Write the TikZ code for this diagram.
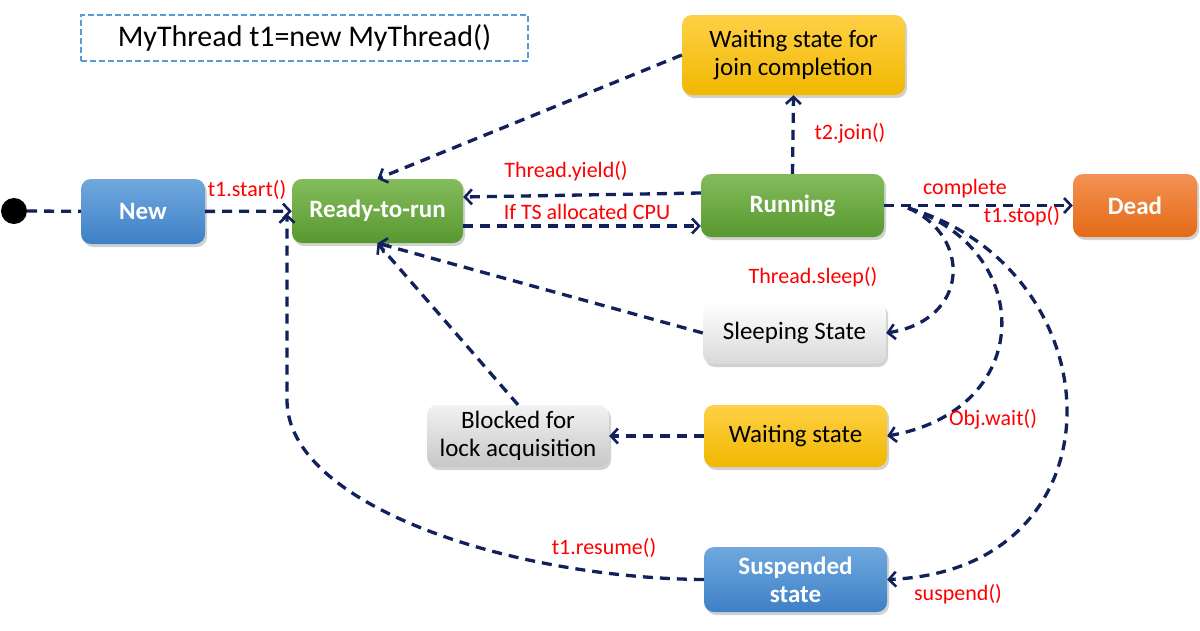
\documentclass[tikz,border=0pt]{standalone}
\usepackage{fontspec}
\setmainfont{Carlito}
\usetikzlibrary{arrows.meta,shadows,calc}
\definecolor{arrowc}{RGB}{18,32,92}
\definecolor{bluetop}{RGB}{112,168,222}
\definecolor{bluebot}{RGB}{62,128,198}
\definecolor{greentop}{RGB}{132,188,92}
\definecolor{greenbot}{RGB}{88,152,48}
\definecolor{orangetop}{RGB}{243,146,84}
\definecolor{orangebot}{RGB}{228,106,22}
\definecolor{yellowtop}{RGB}{255,208,70}
\definecolor{yellowbot}{RGB}{240,184,0}
\definecolor{titleblue}{RGB}{91,155,213}
\begin{document}
\begin{tikzpicture}[x=1pt,y=-1pt,
  st/.style={rounded corners=10pt, inner sep=0pt, align=center,
    drop shadow={opacity=0.35, shadow xshift=2pt, shadow yshift=-3pt},
    font=\fontsize{25}{28}\selectfont},
  stbold/.style={st, text=white, font=\fontsize{25}{28}\selectfont\bfseries},
  stblue/.style={stbold, top color=bluetop, bottom color=bluebot},
  stgreen/.style={stbold, top color=greentop, bottom color=greenbot},
  storange/.style={stbold, top color=orangetop, bottom color=orangebot},
  styellow/.style={st, top color=yellowtop, bottom color=yellowbot},
  stwhite/.style={st, top color=white, bottom color=black!15},
  stgray/.style={st, top color=black!5, bottom color=black!22},
  lbl/.style={text=red, inner sep=0pt, font=\fontsize{22}{24}\selectfont},
  dashline/.style={draw=arrowc, line width=3.3pt, dash pattern=on 10pt off 7pt},
  conn/.style={dashline, -{Straight Barb[length=7pt,width=15pt,line width=2.6pt]}}
]
\useasboundingbox (0,0) rectangle (1200,630);
\fill[white] (0,0) rectangle (1200,630);

% title box
\node[draw=titleblue, line width=2pt, dash pattern=on 6pt off 3pt,
  minimum width=447pt, minimum height=46pt, inner sep=0pt,
  font=\fontsize{30}{34}\selectfont] (title) at (304.5,38) {MyThread t1=new MyThread()};

% start dot
\node[circle, fill=black, minimum size=26pt, inner sep=0pt] (dot) at (14,211) {};

% states
\node[stblue, minimum width=124pt, minimum height=65pt] (new) at (143,211.5) {New};
\node[stgreen, minimum width=171pt, minimum height=64pt] (ready) at (377.5,211) {Ready-to-run};
\node[stgreen, minimum width=183pt, minimum height=63pt] (running) at (792.5,205.5) {Running};
\node[storange, minimum width=124pt, minimum height=63pt] (dead) at (1135,205.5) {Dead};
\node[styellow, minimum width=223pt, minimum height=80pt] (join) at (793.5,55) {Waiting state for\\join completion};
\node[stwhite, minimum width=183pt, minimum height=62pt] (sleep) at (794.5,333) {Sleeping State};
\node[styellow, minimum width=183pt, minimum height=62pt] (wait) at (795.5,436) {Waiting state};
\node[stgray, minimum width=182pt, minimum height=62pt] (blocked) at (518,436) {Blocked for\\lock acquisition};
\node[stblue, minimum width=183pt, minimum height=65pt] (susp) at (795.5,579.5) {Suspended\\state};

\coordinate (rout) at (908,208);
\coordinate (rin) at (287,214);

% connectors
\draw[dashline] (dot) -- (new);
\draw[conn] (new) -- (ready);
\draw[conn] ([yshift=-15pt]ready.east) -- ([yshift=-15pt]ready.east -| running.west);
\draw[conn] ([yshift=12.5pt]running.west) -- ([yshift=14pt]ready.east);
\draw[conn] (running.north) -- (join.south);
\draw[conn] (join.west) -- (ready.north);
\draw[conn] (running.east) -- (dead.west);
\draw[conn] (sleep.west) -- (ready.south);
\draw[conn] (blocked.north) -- (ready.south);
\draw[conn] (wait.west) -- (blocked.east);
\draw[conn] (susp.west) .. controls (510,578) and (287,505) .. (287,400) -- (rin);
\draw[conn] (rout) .. controls (972,236) and (970,320) .. (sleep.east);
\draw[conn] (rout) .. controls (1036,250) and (1036,410) .. (wait.east);
\draw[conn] (rout) .. controls (1118,270) and (1128,570) .. (susp.east);

% labels
\node[lbl] (l1) at (247,190) {t1.start()};
\node[lbl] (l2) at (566,171) {Thread.yield()};
\node[lbl] (l3) at (587,212) {If TS allocated CPU};
\node[lbl] (l4) at (850,133) {t2.join()};
\node[lbl] (l5) at (965,189) {complete};
\node[lbl] (l6) at (1022,216) {t1.stop()};
\node[lbl] (l7) at (813,277) {Thread.sleep()};
\node[lbl] (l8) at (993,419) {Obj.wait()};
\node[lbl] (l9) at (958,594) {suspend()};
\node[lbl] (l10) at (604,548) {t1.resume()};
\end{tikzpicture}
\end{document}
